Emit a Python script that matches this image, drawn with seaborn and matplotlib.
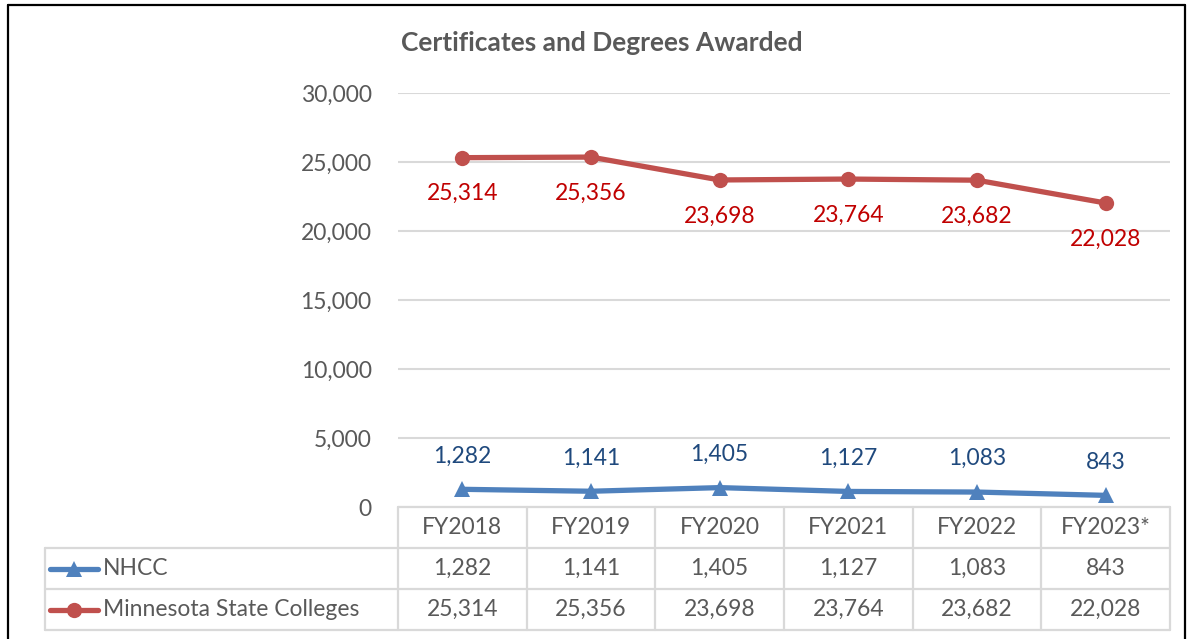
import matplotlib
matplotlib.use("Agg")
import matplotlib.pyplot as plt
import seaborn as sns
import pandas as pd
from matplotlib.lines import Line2D

years = ["FY2018", "FY2019", "FY2020", "FY2021", "FY2022", "FY2023*"]
nhcc = [1282, 1141, 1405, 1127, 1083, 843]
msc = [25314, 25356, 23698, 23764, 23682, 22028]
yticks = [0, 5000, 10000, 15000, 20000, 25000, 30000]

blue = "#4f81bd"
red = "#c0504d"
gray_txt = "#595959"
grid_c = "#d9d9d9"
fs = 16.5

sns.set_theme(style="white")
plt.rcParams["font.family"] = ["Lato", "DejaVu Sans"]

W, H = 1189, 639
fig = plt.figure(figsize=(W / 100, H / 100), dpi=100)

def fx(px):
    return px / W

def fy(py):
    return 1 - py / H

# main plot area
ax = fig.add_axes([fx(398), fy(507), fx(1170) - fx(398), fy(93) - fy(507)])
df = pd.DataFrame({"year": years, "NHCC": nhcc, "Minnesota State Colleges": msc})

sns.lineplot(data=df, x="year", y="Minnesota State Colleges", ax=ax, color=red,
             linewidth=3.8, marker="o", markersize=11, markeredgewidth=0, sort=False)
sns.lineplot(data=df, x="year", y="NHCC", ax=ax, color=blue,
             linewidth=3.8, marker="^", markersize=11, markeredgewidth=0, sort=False)

ax.set_xlim(-0.5, len(years) - 0.5)
ax.set_ylim(0, 30000)
ax.set_yticks(yticks)
ax.set_yticklabels([f"{v:,}" for v in yticks], color=gray_txt, fontsize=fs)
ax.tick_params(axis="y", length=0, pad=19)
ax.set_xticks([])
ax.set_xlabel("")
ax.set_ylabel("")
ax.yaxis.grid(True, color=grid_c, linewidth=1.5)
ax.set_axisbelow(True)
for s in ax.spines.values():
    s.set_visible(False)

for i, v in enumerate(msc):
    ax.annotate(f"{v:,}", (i, v), xytext=(0, -26), textcoords="offset points",
                ha="center", va="center", color="#c00000", fontsize=fs)
for i, v in enumerate(nhcc):
    ax.annotate(f"{v:,}", (i, v), xytext=(0, 24), textcoords="offset points",
                ha="center", va="center", color="#1f497d", fontsize=fs)

fig.text(fx(602), fy(43), "Certificates and Degrees Awarded", ha="center", va="center",
         color=gray_txt, fontsize=19, fontweight="bold")

# data table below the plot
n = len(years)
left_w = (398 - 45) / ((1170 - 398) / n)
tax = fig.add_axes([fx(45), fy(630), fx(1170) - fx(45), fy(507) - fy(630)])
tax.set_xlim(-0.5 - left_w, n - 0.5)
tax.set_ylim(3, 0)
tax.axis("off")
lw = 1.6
# header row
tax.plot([-0.5, n - 0.5], [0, 0], color=grid_c, lw=lw, clip_on=False)
for r in [1, 2, 3]:
    tax.plot([-0.5 - left_w, n - 0.5], [r, r], color=grid_c, lw=lw, clip_on=False)
for c in range(n + 1):
    tax.plot([c - 0.5, c - 0.5], [0, 3], color=grid_c, lw=lw, clip_on=False)
tax.plot([-0.5 - left_w] * 2, [1, 3], color=grid_c, lw=lw, clip_on=False)

for i, y in enumerate(years):
    tax.text(i, 0.5, y, ha="center", va="center", color=gray_txt, fontsize=fs)
    tax.text(i, 1.5, f"{nhcc[i]:,}", ha="center", va="center", color=gray_txt, fontsize=fs)
    tax.text(i, 2.5, f"{msc[i]:,}", ha="center", va="center", color=gray_txt, fontsize=fs)

unit = (1170 - 398) / n
k0 = -0.5 - left_w + (50 - 45) / unit
k1 = -0.5 - left_w + (98 - 45) / unit
tx = -0.5 - left_w + (103 - 45) / unit
for row, (name, col, mk) in enumerate([("NHCC", blue, "^"), ("Minnesota State Colleges", red, "o")]):
    yy = 1.5 + row
    tax.plot([k0, k1], [yy, yy], color=col, lw=3.8, clip_on=False)
    tax.plot([(k0 + k1) / 2], [yy], marker=mk, color=col, markersize=11, markeredgewidth=0,
             clip_on=False)
    tax.text(tx, yy, name, ha="left", va="center", color=gray_txt, fontsize=fs)

# outer frame of the chart
for xs, ys in [([fx(8), fx(8)], [fy(5), 0]), ([fx(8), fx(1185)], [fy(5), fy(5)]),
               ([fx(1185), fx(1185)], [fy(5), 0])]:
    fig.add_artist(Line2D(xs, ys, color="black", lw=1.6))

fig.savefig("out.png", dpi=100)
